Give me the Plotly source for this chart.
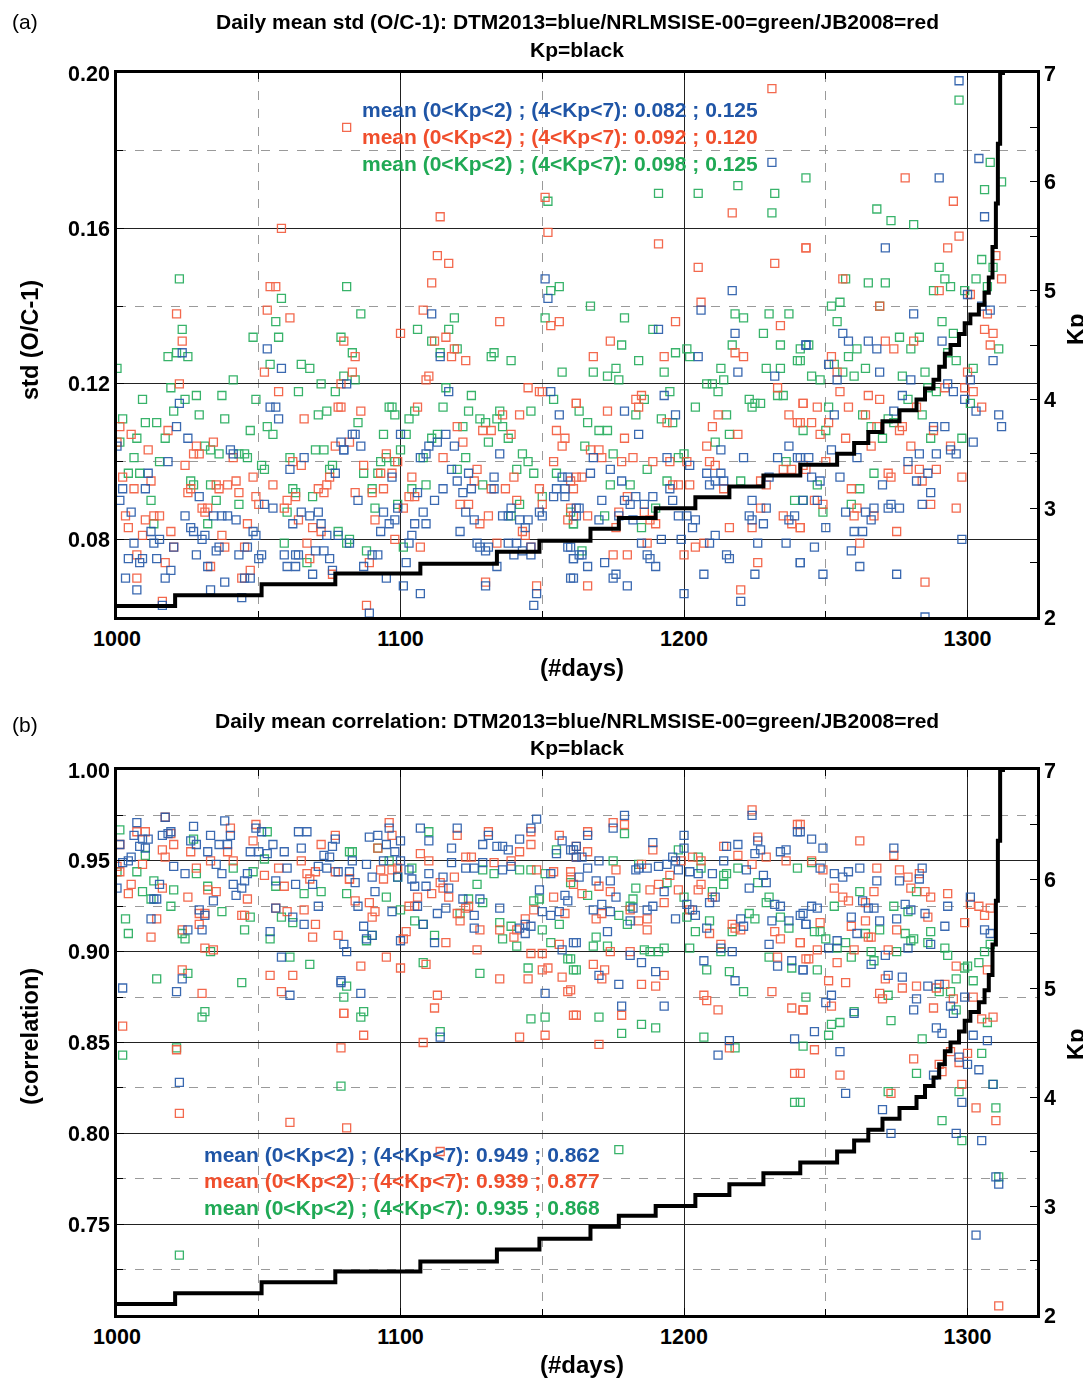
import plotly.graph_objects as go

# ---------------- DATA ----------------
# Kp (sorted daily mean Kp) step values: day where step starts, Kp value
kp_day = [1000, 1020.5, 1051, 1077, 1107, 1134, 1149, 1167, 1177, 1190, 1204, 1216, 1228, 1241,
          1254, 1260, 1265, 1270, 1276, 1282, 1285, 1288, 1290, 1292, 1294, 1297, 1299, 1301,
          1304, 1306, 1307.5, 1308.8, 1310, 1310.7, 1311.5, 1312.5]
kp_value = [2.10, 2.20, 2.30, 2.40, 2.49, 2.60, 2.70, 2.81, 2.91, 3.00, 3.10, 3.20, 3.30, 3.40,
            3.50, 3.60, 3.70, 3.80, 3.90, 4.00, 4.10, 4.18, 4.30, 4.42, 4.50, 4.60, 4.70, 4.78,
            4.87, 4.98, 5.12, 5.40, 5.80, 6.35, 7.00, 7.30]

# Panel (a): daily mean std (O/C-1), (day, value)
std_blue = [
 (1023,0.128),(1053,0.129),(1058,0.124),(1022,0.115),(1054,0.114),(1056,0.114),(1057,0.111),(1021,0.109),(1025,0.106),(1000,0.104),
 (1040,0.103),(1041,0.102),(1079,0.105),(1080,0.103),(1018,0.100),(1066,0.101),(1061,0.098),(1077,0.097),(1011,0.097),(1010,0.093),
 (1002,0.093),(1001,0.090),(1029,0.091),(1052,0.089),(1055,0.088),(1065,0.087),(1068,0.086),(1071,0.087),(1072,0.084),(1074,0.081),
 (1078,0.081),(1062,0.084),(1005,0.087),(1012,0.082),(1015,0.080),(1006,0.079),(1013,0.079),(1024,0.086),(1026,0.083),(1027,0.082),
 (1030,0.080),(1031,0.081),(1034,0.086),(1037,0.086),(1039,0.086),(1042,0.085),(1048,0.082),(1049,0.081),(1020,0.078),(1035,0.077),
 (1036,0.078),(1046,0.078),(1004,0.075),(1008,0.074),(1009,0.075),(1014,0.075),(1019,0.072),(1028,0.076),(1032,0.073),(1043,0.076),
 (1050,0.075),(1051,0.076),(1045,0.070),(1047,0.070),(1003,0.070),(1007,0.067),(1017,0.070),(1038,0.069),(1033,0.067),(1044,0.065),
 (1016,0.063),(1059,0.076),(1060,0.073),(1063,0.076),(1064,0.076),(1063,0.073),(1070,0.077),(1073,0.077),(1075,0.075),(1069,0.071),
 (1076,0.072),
 (1151,0.147),(1152,0.142),(1111,0.138),(1114,0.127),(1081,0.120),(1117,0.118),(1153,0.118),(1156,0.112),(1083,0.107),(1084,0.107),
 (1080,0.103),(1086,0.104),(1100,0.107),(1110,0.104),(1113,0.105),(1116,0.107),(1119,0.104),(1135,0.102),(1097,0.096),(1107,0.101),
 (1109,0.102),(1118,0.098),(1120,0.095),(1124,0.097),(1133,0.096),(1157,0.096),(1159,0.096),(1085,0.090),(1106,0.092),(1112,0.090),
 (1115,0.093),(1122,0.092),(1125,0.093),(1123,0.087),(1126,0.085),(1133,0.093),(1139,0.088),(1136,0.086),(1138,0.086),(1142,0.085),
 (1145,0.085),(1144,0.083),(1149,0.087),(1150,0.086),(1154,0.091),(1158,0.091),(1158,0.093),(1155,0.093),(1162,0.088),(1162,0.086),
 (1094,0.087),(1096,0.084),(1098,0.085),(1093,0.082),(1099,0.088),(1105,0.084),(1108,0.087),(1109,0.084),(1104,0.081),(1103,0.079),
 (1121,0.082),(1127,0.079),(1128,0.078),(1130,0.077),(1131,0.078),(1138,0.079),(1141,0.079),(1140,0.076),(1143,0.077),(1146,0.076),
 (1146,0.078),(1082,0.079),(1090,0.076),(1092,0.076),(1087,0.073),(1102,0.074),(1134,0.073),(1095,0.070),(1101,0.068),(1107,0.066),
 (1130,0.068),(1089,0.061),(1148,0.066),(1147,0.063),(1159,0.078),(1161,0.075),(1160,0.070),
 (1231,0.177),(1217,0.144),(1206,0.139),(1191,0.134),(1218,0.133),(1243,0.130),(1205,0.127),(1219,0.123),(1232,0.122),(1179,0.113),
 (1193,0.117),(1197,0.112),(1184,0.107),(1213,0.103),(1237,0.104),(1168,0.101),(1174,0.098),(1194,0.101),(1202,0.099),(1221,0.101),
 (1233,0.101),(1240,0.101),(1167,0.097),(1178,0.095),(1195,0.093),(1208,0.097),(1209,0.094),(1211,0.095),(1213,0.097),(1214,0.095),
 (1230,0.096),(1163,0.088),(1170,0.085),(1171,0.090),(1177,0.086),(1179,0.090),(1181,0.089),(1183,0.091),(1182,0.085),(1186,0.089),
 (1189,0.091),(1196,0.090),(1198,0.086),(1201,0.086),(1203,0.083),(1204,0.085),(1224,0.090),(1229,0.088),(1228,0.084),(1224,0.085),
 (1223,0.086),(1239,0.086),(1237,0.085),(1160,0.078),(1163,0.076),(1164,0.076),(1166,0.073),(1161,0.075),(1172,0.074),(1185,0.079),
 (1187,0.076),(1188,0.075),(1190,0.073),(1192,0.080),(1199,0.080),(1161,0.070),(1175,0.070),(1176,0.071),(1180,0.068),(1209,0.079),
 (1211,0.081),(1215,0.076),(1216,0.075),(1226,0.079),(1236,0.079),(1241,0.074),(1207,0.071),(1225,0.071),(1200,0.066),(1220,0.064),
 (1297,0.198),(1304,0.178),(1290,0.173),(1306,0.163),(1271,0.155),(1300,0.143),(1281,0.138),(1305,0.140),(1308,0.139),(1256,0.133),
 (1258,0.131),(1265,0.131),(1268,0.129),(1291,0.131),(1243,0.130),(1251,0.125),(1309,0.126),(1269,0.123),(1254,0.121),(1280,0.121),
 (1301,0.121),(1293,0.120),(1295,0.118),(1299,0.116),(1303,0.113),(1277,0.117),(1274,0.113),(1253,0.112),(1288,0.109),(1292,0.109),
 (1311,0.112),(1312,0.109),(1302,0.105),(1252,0.103),(1241,0.101),(1244,0.101),(1261,0.101),(1283,0.102),(1289,0.102),(1294,0.103),
 (1296,0.102),(1279,0.100),(1245,0.096),(1248,0.095),(1255,0.096),(1282,0.095),(1286,0.097),(1270,0.094),(1287,0.092),(1242,0.090),
 (1247,0.090),(1257,0.087),(1264,0.087),(1267,0.088),(1266,0.085),(1272,0.088),(1273,0.089),(1276,0.088),(1284,0.089),(1250,0.083),
 (1260,0.082),(1263,0.082),(1246,0.078),(1259,0.077),(1298,0.080),(1241,0.074),(1249,0.071),(1262,0.073),(1275,0.071),(1285,0.060),
]
std_red = [
 (1081,0.186),(1058,0.160),(1054,0.145),(1056,0.145),(1021,0.138),(1053,0.139),(1061,0.137),(1023,0.131),(1080,0.131),(1052,0.123),
 (1022,0.120),(1079,0.120),(1057,0.118),(1078,0.114),(1066,0.111),(1001,0.109),(1018,0.108),(1005,0.107),(1000,0.105),(1011,0.103),
 (1034,0.105),(1028,0.104),(1027,0.102),(1029,0.102),(1041,0.101),(1077,0.104),(1024,0.099),(1062,0.100),(1065,0.099),(1002,0.096),
 (1012,0.095),(1006,0.093),(1026,0.093),(1035,0.094),(1036,0.093),(1039,0.094),(1042,0.095),(1043,0.092),(1025,0.092),(1048,0.096),
 (1055,0.094),(1063,0.091),(1060,0.090),(1071,0.093),(1073,0.092),(1074,0.094),(1075,0.096),(1049,0.091),(1050,0.089),(1059,0.088),
 (1069,0.083),(1072,0.082),(1064,0.085),(1003,0.086),(1010,0.085),(1013,0.086),(1015,0.086),(1004,0.083),(1009,0.081),(1019,0.082),
 (1030,0.088),(1031,0.087),(1032,0.088),(1037,0.081),(1046,0.084),(1020,0.078),(1038,0.078),(1045,0.078),(1007,0.076),(1017,0.074),
 (1033,0.073),(1047,0.072),(1044,0.070),(1007,0.070),(1016,0.064),(1067,0.079),(1068,0.075),(1076,0.071),
 (1114,0.163),(1151,0.168),(1152,0.159),(1113,0.153),(1117,0.151),(1111,0.146),(1108,0.139),(1135,0.136),(1153,0.135),(1156,0.136),
 (1100,0.133),(1112,0.131),(1116,0.132),(1118,0.127),(1119,0.129),(1123,0.126),(1084,0.127),(1083,0.123),(1110,0.122),(1109,0.121),
 (1145,0.119),(1149,0.118),(1150,0.118),(1162,0.115),(1079,0.114),(1086,0.113),(1106,0.114),(1136,0.112),(1142,0.112),(1120,0.109),
 (1129,0.108),(1132,0.108),(1139,0.107),(1082,0.105),(1122,0.105),(1155,0.108),(1158,0.106),(1157,0.104),(1095,0.102),(1087,0.099),
 (1093,0.097),(1097,0.097),(1099,0.100),(1115,0.101),(1127,0.098),(1126,0.095),(1132,0.093),(1140,0.096),(1154,0.100),(1162,0.096),
 (1084,0.092),(1090,0.092),(1094,0.093),(1104,0.096),(1103,0.091),(1105,0.091),(1121,0.089),(1124,0.089),(1128,0.084),(1131,0.086),
 (1137,0.093),(1141,0.090),(1143,0.082),(1144,0.081),(1149,0.093),(1150,0.089),(1159,0.085),(1091,0.085),(1101,0.088),(1098,0.080),
 (1107,0.078),(1134,0.079),(1146,0.078),(1089,0.074),(1130,0.069),(1088,0.063),(1148,0.068),
 (1231,0.196),(1217,0.164),(1191,0.156),(1205,0.150),(1232,0.151),(1243,0.155),(1206,0.141),(1197,0.136),(1234,0.135),(1174,0.131),
 (1218,0.128),(1221,0.127),(1168,0.127),(1193,0.127),(1233,0.119),(1162,0.115),(1173,0.113),(1183,0.116),(1185,0.117),(1184,0.114),
 (1212,0.112),(1242,0.115),(1237,0.112),(1240,0.110),(1179,0.106),(1194,0.110),(1210,0.109),(1219,0.107),(1208,0.104),(1167,0.103),
 (1170,0.103),(1171,0.101),(1178,0.100),(1182,0.101),(1189,0.100),(1195,0.100),(1201,0.100),(1209,0.100),(1211,0.099),(1235,0.098),
 (1238,0.098),(1242,0.099),(1160,0.095),(1164,0.096),(1161,0.093),(1196,0.094),(1198,0.094),(1202,0.094),(1214,0.093),(1227,0.095),
 (1229,0.094),(1160,0.088),(1161,0.086),(1166,0.086),(1176,0.083),(1177,0.087),(1180,0.091),(1186,0.087),(1188,0.085),(1190,0.084),
 (1216,0.083),(1227,0.088),(1224,0.083),(1235,0.086),(1238,0.084),(1241,0.083),(1175,0.076),(1180,0.076),(1187,0.079),(1200,0.076),
 (1166,0.068),(1204,0.078),(1207,0.079),(1226,0.074),(1220,0.067),
 (1278,0.173),(1295,0.167),(1243,0.155),(1293,0.155),(1297,0.158),(1310,0.153),(1256,0.147),(1290,0.144),(1312,0.147),(1301,0.143),
 (1269,0.140),(1307,0.138),(1271,0.131),(1274,0.129),(1281,0.131),(1306,0.134),(1309,0.133),(1308,0.130),(1252,0.127),(1254,0.123),
 (1300,0.123),(1292,0.119),(1299,0.119),(1302,0.118),(1305,0.114),(1255,0.118),(1265,0.117),(1269,0.116),(1282,0.114),(1242,0.115),
 (1247,0.114),(1258,0.114),(1264,0.112),(1241,0.110),(1245,0.110),(1251,0.110),(1248,0.107),(1268,0.109),(1276,0.108),(1277,0.109),
 (1288,0.108),(1257,0.106),(1266,0.104),(1280,0.104),(1294,0.104),(1250,0.100),(1243,0.098),(1272,0.097),(1273,0.096),(1279,0.098),
 (1283,0.098),(1289,0.098),(1284,0.095),(1298,0.096),(1259,0.093),(1246,0.090),(1249,0.089),(1261,0.088),(1260,0.086),(1267,0.086),
 (1287,0.089),(1296,0.088),(1241,0.083),(1275,0.082),(1262,0.079),(1285,0.069),
]
std_green = [
 (1022,0.147),(1058,0.142),(1081,0.145),(1056,0.136),(1023,0.134),(1048,0.132),(1057,0.132),(1079,0.132),(1021,0.128),(1018,0.127),
 (1025,0.127),(1000,0.124),(1054,0.125),(1065,0.125),(1068,0.124),(1041,0.121),(1019,0.119),(1072,0.120),(1009,0.116),(1028,0.117),
 (1024,0.116),(1037,0.117),(1049,0.116),(1064,0.118),(1077,0.118),(1020,0.113),(1029,0.112),(1038,0.111),(1002,0.111),(1071,0.112),
 (1074,0.113),(1010,0.110),(1014,0.110),(1053,0.109),(1047,0.108),(1055,0.107),(1007,0.106),(1017,0.106),(1001,0.105),(1031,0.104),
 (1033,0.103),(1036,0.102),(1043,0.102),(1045,0.102),(1046,0.101),(1070,0.103),(1073,0.103),(1006,0.101),(1015,0.100),(1061,0.101),
 (1051,0.099),(1052,0.098),(1076,0.099),(1075,0.098),(1004,0.097),(1008,0.097),(1026,0.095),(1027,0.094),(1012,0.090),(1033,0.094),
 (1035,0.090),(1043,0.089),(1062,0.093),(1063,0.092),(1069,0.091),(1060,0.087),(1078,0.082),(1013,0.084),(1032,0.084),(1059,0.079),
 (1067,0.074),(1081,0.079),
 (1152,0.167),(1153,0.144),(1156,0.145),(1086,0.138),(1119,0.137),(1151,0.137),(1106,0.134),(1111,0.131),(1117,0.134),(1114,0.128),
 (1120,0.129),(1132,0.127),(1133,0.128),(1139,0.126),(1083,0.128),(1157,0.123),(1080,0.122),(1084,0.121),(1116,0.119),(1125,0.117),
 (1154,0.116),(1096,0.114),(1097,0.114),(1098,0.112),(1105,0.113),(1103,0.111),(1115,0.114),(1124,0.113),(1128,0.111),(1130,0.110),
 (1135,0.113),(1134,0.111),(1146,0.113),(1085,0.110),(1122,0.109),(1136,0.109),(1138,0.106),(1094,0.107),(1102,0.107),(1100,0.103),
 (1111,0.106),(1113,0.107),(1131,0.105),(1095,0.101),(1098,0.100),(1087,0.097),(1092,0.097),(1093,0.100),(1108,0.101),(1123,0.101),
 (1120,0.098),(1129,0.094),(1143,0.102),(1145,0.100),(1141,0.098),(1147,0.097),(1155,0.097),(1090,0.093),(1104,0.093),(1109,0.094),
 (1142,0.089),(1139,0.086),(1150,0.091),(1160,0.087),(1161,0.084),(1091,0.088),(1099,0.089),(1101,0.078),(1082,0.080),(1088,0.077),
 (1191,0.169),(1205,0.169),(1219,0.171),(1232,0.169),(1243,0.173),(1231,0.164),(1167,0.140),(1179,0.137),(1189,0.134),(1218,0.138),
 (1221,0.137),(1230,0.138),(1237,0.138),(1228,0.133),(1178,0.130),(1217,0.130),(1234,0.130),(1241,0.129),(1184,0.126),(1197,0.128),
 (1201,0.129),(1202,0.127),(1168,0.123),(1176,0.124),(1173,0.122),(1177,0.121),(1193,0.123),(1213,0.124),(1229,0.124),(1234,0.124),
 (1240,0.126),(1208,0.120),(1210,0.120),(1212,0.118),(1214,0.121),(1233,0.117),(1235,0.117),(1163,0.113),(1186,0.116),(1183,0.112),
 (1195,0.118),(1204,0.114),(1215,0.112),(1223,0.116),(1224,0.114),(1227,0.115),(1225,0.115),(1242,0.108),(1166,0.110),(1170,0.108),
 (1173,0.108),(1192,0.111),(1196,0.110),(1216,0.107),(1211,0.105),(1165,0.104),(1175,0.102),(1198,0.101),(1200,0.102),(1236,0.100),
 (1174,0.094),(1187,0.098),(1181,0.094),(1194,0.095),(1220,0.095),(1161,0.084),(1172,0.086),(1185,0.083),(1190,0.088),(1239,0.090),
 (1242,0.090),(1164,0.077),
 (1297,0.193),(1308,0.177),(1312,0.172),(1306,0.170),(1268,0.165),(1273,0.162),(1281,0.161),(1305,0.152),(1309,0.150),(1290,0.150),
 (1257,0.147),(1265,0.146),(1271,0.146),(1292,0.147),(1294,0.145),(1288,0.144),(1303,0.147),(1307,0.145),(1299,0.144),(1252,0.140),
 (1255,0.141),(1269,0.140),(1254,0.136),(1291,0.136),(1276,0.132),(1280,0.129),(1283,0.132),(1295,0.133),(1311,0.129),(1244,0.130),
 (1241,0.126),(1258,0.127),(1261,0.129),(1253,0.125),(1264,0.124),(1293,0.128),(1296,0.126),(1256,0.123),(1285,0.123),(1302,0.124),
 (1245,0.122),(1248,0.121),(1260,0.122),(1277,0.122),(1286,0.119),(1289,0.118),(1301,0.115),(1279,0.116),(1284,0.112),(1251,0.114),
 (1263,0.112),(1250,0.108),(1266,0.109),(1270,0.106),(1272,0.111),(1274,0.110),(1287,0.106),(1298,0.106),(1247,0.094),(1267,0.097),
 (1262,0.093),(1249,0.087),(1259,0.089),
]

# Panel (b): daily mean correlation, (day, value)
cor_blue = [
 (1007,0.971),(1017,0.974),(1038,0.972),(1049,0.968),(1051,0.966),(1040,0.964),(1027,0.969),(1033,0.964),(1006,0.964),(1009,0.962),
 (1011,0.962),(1019,0.966),(1018,0.965),(1016,0.964),(1026,0.961),(1028,0.959),(1036,0.959),(1039,0.959),(1055,0.959),(1001,0.959),
 (1008,0.958),(1010,0.957),(1032,0.955),(1047,0.955),(1050,0.955),(1053,0.954),(1059,0.955),(1064,0.966),(1067,0.966),(1065,0.957),
 (1073,0.953),(1075,0.952),(1077,0.962),(1076,0.958),(1005,0.952),(1004,0.950),(1002,0.949),(1020,0.947),(1024,0.943),(1035,0.948),
 (1037,0.943),(1046,0.943),(1045,0.939),(1060,0.946),(1056,0.939),(1063,0.937),(1069,0.937),(1071,0.947),(1074,0.946),(1078,0.944),
 (1000,0.935),(1015,0.937),(1013,0.929),(1014,0.929),(1034,0.928),(1041,0.937),(1042,0.931),(1044,0.935),(1031,0.920),(1029,0.923),
 (1012,0.918),(1025,0.912),(1030,0.912),(1056,0.924),(1062,0.919),(1066,0.915),(1071,0.925),(1054,0.911),(1080,0.904),(1081,0.900),
 (1058,0.897),(1023,0.885),(1002,0.880),(1021,0.878),(1061,0.876),(1079,0.883),(1022,0.828),
 (1096,0.968),(1089,0.963),(1092,0.964),(1100,0.961),(1107,0.968),(1110,0.961),(1120,0.968),(1131,0.964),(1129,0.959),(1134,0.958),
 (1136,0.958),(1138,0.956),(1142,0.962),(1146,0.968),(1148,0.973),(1118,0.957),(1095,0.959),(1098,0.955),(1094,0.950),(1083,0.950),
 (1088,0.948),(1100,0.950),(1103,0.945),(1110,0.943),(1115,0.941),(1118,0.949),(1126,0.946),(1123,0.946),(1129,0.949),(1136,0.945),
 (1139,0.947),(1153,0.943),(1157,0.961),(1155,0.954),(1161,0.956),(1162,0.952),(1082,0.944),(1084,0.938),(1090,0.941),(1099,0.941),
 (1104,0.940),(1105,0.936),(1109,0.936),(1117,0.935),(1122,0.929),(1128,0.929),(1126,0.920),(1091,0.933),(1085,0.925),(1097,0.922),
 (1106,0.925),(1108,0.915),(1113,0.921),(1116,0.924),(1087,0.914),(1088,0.907),(1090,0.909),(1112,0.905),(1100,0.906),(1126,0.913),
 (1135,0.924),(1142,0.913),(1144,0.910),(1144,0.915),(1146,0.914),(1149,0.934),(1150,0.922),(1153,0.920),(1156,0.922),(1158,0.931),
 (1159,0.928),(1161,0.905),(1157,0.901),(1079,0.884),(1086,0.877),(1151,0.877),(1114,0.853),
 (1179,0.975),(1224,0.975),(1175,0.968),(1240,0.966),(1166,0.964),(1189,0.960),(1200,0.964),(1200,0.957),(1160,0.956),(1162,0.958),
 (1164,0.952),(1170,0.950),(1166,0.946),(1163,0.941),(1169,0.939),(1174,0.939),(1176,0.930),(1183,0.945),(1184,0.946),(1187,0.946),
 (1191,0.947),(1194,0.948),(1197,0.950),(1196,0.952),(1198,0.945),(1193,0.933),(1182,0.924),(1181,0.917),(1187,0.923),(1189,0.925),
 (1197,0.918),(1171,0.926),(1174,0.922),(1168,0.923),(1173,0.911),(1162,0.905),(1170,0.887),(1181,0.898),(1185,0.894),(1190,0.889),
 (1177,0.882),(1178,0.870),(1193,0.870),(1202,0.944),(1205,0.943),(1210,0.943),(1201,0.926),(1203,0.923),(1204,0.920),(1208,0.913),
 (1209,0.927),(1211,0.930),(1215,0.958),(1219,0.959),(1214,0.950),(1222,0.945),(1223,0.935),(1226,0.961),(1227,0.956),(1225,0.954),
 (1234,0.955),(1236,0.956),(1228,0.942),(1229,0.938),(1232,0.926),(1234,0.925),(1231,0.917),(1237,0.917),(1241,0.920),(1243,0.915),
 (1220,0.918),(1221,0.914),(1213,0.902),(1217,0.900),(1207,0.895),(1218,0.884),(1230,0.904),(1233,0.892),(1238,0.895),(1242,0.890),
 (1216,0.851),(1212,0.843),(1239,0.852),
 (1241,0.966),(1245,0.962),(1249,0.957),(1274,0.957),(1248,0.946),(1253,0.943),(1256,0.941),(1258,0.944),(1262,0.946),(1268,0.939),
 (1276,0.939),(1284,0.946),(1283,0.940),(1293,0.925),(1301,0.930),(1245,0.925),(1247,0.924),(1263,0.928),(1265,0.924),(1267,0.924),
 (1278,0.926),(1280,0.923),(1242,0.921),(1243,0.915),(1259,0.919),(1269,0.917),(1275,0.918),(1285,0.921),(1292,0.914),(1261,0.910),
 (1254,0.906),(1251,0.902),(1287,0.904),(1279,0.902),(1271,0.898),(1308,0.910),(1306,0.912),(1266,0.893),(1242,0.890),(1272,0.887),
 (1277,0.886),(1286,0.881),(1290,0.882),(1252,0.876),(1250,0.872),(1282,0.874),(1281,0.868),(1294,0.870),(1295,0.866),(1299,0.875),
 (1260,0.866),(1246,0.856),(1289,0.858),(1291,0.855),(1302,0.854),(1307,0.851),(1255,0.845),(1297,0.842),(1300,0.838),(1304,0.835),
 (1288,0.832),(1309,0.827),(1257,0.822),(1298,0.817),(1270,0.813),(1273,0.800),(1296,0.800),(1305,0.796),(1310,0.776),(1311,0.772),
 (1303,0.744),
]
cor_red = [
 (1017,0.974),(1049,0.970),(1040,0.968),(1007,0.966),(1010,0.966),(1019,0.965),(1048,0.961),(1001,0.959),(1016,0.956),(1020,0.959),
 (1026,0.955),(1039,0.955),(1065,0.950),(1072,0.959),(1077,0.964),(1000,0.947),(1001,0.944),(1009,0.948),(1017,0.952),(1028,0.946),
 (1033,0.950),(1041,0.950),(1052,0.942),(1057,0.946),(1059,0.936),(1067,0.943),(1068,0.940),(1070,0.944),(1077,0.944),(1082,0.940),
 (1004,0.932),(1005,0.937),(1016,0.935),(1025,0.930),(1032,0.934),(1035,0.933),(1046,0.929),(1029,0.921),(1031,0.921),(1044,0.920),
 (1045,0.920),(1014,0.918),(1012,0.908),(1023,0.912),(1029,0.915),(1056,0.924),(1060,0.922),(1066,0.923),(1070,0.915),(1069,0.908),
 (1078,0.909),(1031,0.902),(1034,0.901),(1023,0.890),(1054,0.887),(1062,0.887),(1030,0.877),(1058,0.878),(1002,0.859),(1080,0.866),
 (1021,0.846),(1079,0.847),(1022,0.811),(1061,0.806),(1081,0.803),
 (1096,0.971),(1097,0.964),(1120,0.964),(1131,0.966),(1146,0.966),(1146,0.959),(1142,0.955),(1092,0.957),(1107,0.954),(1110,0.950),
 (1093,0.945),(1097,0.945),(1099,0.946),(1123,0.952),(1125,0.952),(1133,0.949),(1139,0.950),(1148,0.945),(1154,0.944),(1156,0.964),
 (1162,0.958),(1082,0.940),(1094,0.940),(1106,0.930),(1111,0.932),(1114,0.938),(1119,0.941),(1115,0.935),(1117,0.930),(1124,0.925),
 (1120,0.921),(1123,0.924),(1121,0.917),(1084,0.928),(1089,0.927),(1091,0.922),(1090,0.919),(1103,0.925),(1105,0.925),(1102,0.911),
 (1101,0.907),(1116,0.905),(1128,0.912),(1135,0.912),(1140,0.908),(1141,0.912),(1144,0.918),(1147,0.923),(1154,0.930),(1158,0.921),
 (1156,0.904),(1160,0.941),(1161,0.937),(1127,0.901),(1095,0.897),(1086,0.892),(1100,0.891),(1109,0.893),(1135,0.885),(1146,0.899),
 (1150,0.899),(1145,0.885),(1150,0.890),(1152,0.891),(1157,0.886),(1113,0.876),(1112,0.869),(1159,0.878),(1161,0.865),(1080,0.866),
 (1087,0.854),(1108,0.850),(1142,0.853),(1151,0.854),(1114,0.790),
 (1224,0.978),(1175,0.971),(1179,0.970),(1240,0.970),(1166,0.966),(1189,0.956),(1166,0.955),(1162,0.952),(1176,0.945),(1160,0.944),
 (1170,0.936),(1174,0.933),(1164,0.932),(1185,0.948),(1195,0.942),(1199,0.950),(1203,0.952),(1206,0.950),(1188,0.934),(1191,0.937),
 (1198,0.934),(1181,0.923),(1184,0.917),(1187,0.912),(1193,0.927),(1187,0.918),(1169,0.918),(1171,0.921),(1174,0.900),(1168,0.893),
 (1172,0.890),(1171,0.885),(1181,0.900),(1193,0.887),(1185,0.882),(1190,0.881),(1160,0.879),(1162,0.865),(1178,0.865),(1170,0.849),
 (1205,0.934),(1206,0.937),(1202,0.923),(1209,0.910),(1210,0.930),(1214,0.958),(1219,0.953),(1224,0.948),(1226,0.963),(1229,0.952),
 (1236,0.950),(1232,0.911),(1234,0.907),(1217,0.915),(1220,0.912),(1218,0.913),(1213,0.904),(1207,0.876),(1208,0.873),(1212,0.868),
 (1231,0.878),(1233,0.897),(1243,0.896),(1238,0.869),(1242,0.868),(1241,0.905),(1216,0.847),(1239,0.833),
 (1241,0.970),(1262,0.961),(1274,0.953),(1245,0.950),(1249,0.945),(1253,0.935),(1268,0.946),(1276,0.945),(1279,0.941),(1280,0.935),
 (1283,0.943),(1285,0.933),(1287,0.930),(1267,0.933),(1293,0.932),(1301,0.926),(1304,0.925),(1308,0.924),(1306,0.920),(1256,0.930),
 (1258,0.928),(1264,0.927),(1264,0.917),(1248,0.916),(1259,0.914),(1286,0.919),(1299,0.916),(1265,0.908),(1266,0.908),(1241,0.905),
 (1275,0.912),(1247,0.901),(1260,0.901),(1272,0.901),(1244,0.896),(1254,0.894),(1296,0.892),(1307,0.890),(1271,0.885),(1277,0.880),
 (1282,0.881),(1289,0.880),(1292,0.882),(1251,0.884),(1257,0.883),(1252,0.870),(1269,0.877),(1270,0.874),(1295,0.874),(1302,0.875),
 (1288,0.869),(1242,0.868),(1305,0.863),(1309,0.864),(1246,0.846),(1241,0.833),(1255,0.832),(1281,0.841),(1290,0.838),(1291,0.834),
 (1294,0.845),(1300,0.844),(1297,0.839),(1298,0.827),(1273,0.822),(1303,0.814),(1310,0.807),(1311,0.705),
]
cor_green = [
 (1001,0.967),(1053,0.966),(1027,0.962),(1052,0.951),(1082,0.955),(1007,0.944),(1010,0.953),(1028,0.943),(1041,0.946),(1048,0.944),
 (1056,0.936),(1066,0.932),(1072,0.933),(1000,0.944),(1013,0.939),(1009,0.933),(1012,0.929),(1020,0.934),(1032,0.936),(1019,0.925),
 (1037,0.922),(1047,0.919),(1003,0.918),(1004,0.910),(1023,0.910),(1024,0.907),(1045,0.912),(1058,0.919),(1062,0.916),(1054,0.907),
 (1033,0.900),(1061,0.897),(1068,0.893),(1025,0.888),(1014,0.885),(1044,0.883),(1081,0.881),(1080,0.875),(1030,0.864),(1031,0.867),
 (1002,0.843),(1021,0.847),(1079,0.826),(1022,0.733),
 (1110,0.966),(1083,0.955),(1092,0.957),(1096,0.950),(1104,0.946),(1099,0.941),(1129,0.945),(1133,0.943),(1142,0.945),(1146,0.945),
 (1151,0.943),(1155,0.956),(1127,0.937),(1124,0.929),(1129,0.927),(1121,0.921),(1081,0.932),(1095,0.930),(1100,0.923),(1105,0.917),
 (1108,0.915),(1088,0.906),(1090,0.909),(1112,0.909),(1135,0.916),(1136,0.907),(1141,0.903),(1139,0.914),(1147,0.928),(1149,0.929),
 (1150,0.912),(1153,0.905),(1156,0.915),(1159,0.896),(1161,0.890),(1108,0.894),(1128,0.888),(1145,0.891),(1087,0.867),(1086,0.864),
 (1114,0.856),(1146,0.863),(1151,0.864),
 (1179,0.965),(1175,0.950),(1166,0.931),(1160,0.938),(1194,0.938),(1183,0.935),(1184,0.948),(1182,0.929),(1181,0.925),(1177,0.920),
 (1180,0.915),(1169,0.908),(1168,0.903),(1173,0.903),(1162,0.890),(1160,0.896),(1186,0.901),(1188,0.900),(1191,0.900),(1193,0.902),
 (1170,0.864),(1178,0.855),(1185,0.860),(1190,0.858),(1177,0.791),(1198,0.956),(1205,0.952),(1206,0.946),(1200,0.930),(1201,0.919),
 (1204,0.911),(1202,0.902),(1209,0.917),(1210,0.933),(1214,0.937),(1219,0.946),(1214,0.942),(1215,0.943),(1226,0.938),(1230,0.930),
 (1229,0.927),(1234,0.919),(1237,0.913),(1217,0.911),(1223,0.921),(1225,0.918),(1213,0.900),(1208,0.890),(1216,0.889),(1221,0.878),
 (1230,0.897),(1238,0.891),(1243,0.875),(1240,0.946),(1207,0.853),(1218,0.847),(1242,0.848),(1239,0.817),
 (1245,0.949),(1262,0.933),(1282,0.933),(1253,0.925),(1274,0.925),(1279,0.922),(1246,0.911),(1248,0.911),(1264,0.910),(1269,0.912),
 (1287,0.911),(1250,0.907),(1257,0.905),(1281,0.907),(1286,0.905),(1278,0.910),(1280,0.906),(1254,0.902),(1266,0.900),(1275,0.900),
 (1292,0.902),(1293,0.898),(1306,0.900),(1308,0.904),(1259,0.897),(1267,0.895),(1247,0.890),(1299,0.891),(1300,0.892),(1304,0.894),
 (1296,0.885),(1302,0.884),(1290,0.878),(1294,0.878),(1272,0.876),(1296,0.868),(1260,0.867),(1255,0.861),(1252,0.860),(1251,0.854),
 (1273,0.862),(1307,0.861),(1284,0.852),(1241,0.817),(1282,0.833),(1305,0.844),(1309,0.827),(1297,0.823),(1272,0.823),(1310,0.814),
 (1291,0.807),(1298,0.796),(1311,0.776),
]

x_ticks = [1000, 1100, 1200, 1300]
std_ticks = [0.08, 0.12, 0.16, 0.20]
cor_ticks = [0.75, 0.80, 0.85, 0.90, 0.95, 1.00]
kp_ticks = [2, 3, 4, 5, 6, 7]

std_means = {"blue": ("0.082", "0.125"), "red": ("0.092", "0.120"), "green": ("0.098", "0.125")}
cor_means = {"blue": ("0.949", "0.862"), "red": ("0.939", "0.877"), "green": ("0.935", "0.868")}

# ---------------- STYLE ----------------
# the page body has an 8px margin, so the figure is made 8px smaller on each axis
# and every layout position is expressed in reference-image pixels shifted by 8px.
OFF = 8
W, H = 1091 - OFF, 1378 - OFF
FONT = "Liberation Sans, Arial, Helvetica, sans-serif"
COL = {"blue": "#2458a8", "red": "#f2583a", "green": "#22ab5a"}
TXT = {"blue": "#1f55a6", "red": "#f04e2c", "green": "#20a955"}

def px_x(p):
    return (p - OFF) / W

def px_y(p):
    return 1 - (p - OFF) / H

dom_x = [px_x(117), px_x(1037)]
dom_a = [px_y(617), px_y(73)]
dom_b = [px_y(1315), px_y(770)]

fig = go.Figure()

def add_points(pts, color, xa, ya, name):
    fig.add_trace(go.Scatter(
        x=[p[0] for p in pts], y=[p[1] for p in pts], mode="markers", name=name,
        xaxis=xa, yaxis=ya, showlegend=False,
        marker=dict(symbol="square-open", size=8, color=color, line=dict(width=1.3, color=color)),
        opacity=0.9))

for key, pts in (("green", std_green), ("red", std_red), ("blue", std_blue)):
    add_points(pts, COL[key], "x", "y", key)
for key, pts in (("green", cor_green), ("red", cor_red), ("blue", cor_blue)):
    add_points(pts, COL[key], "x2", "y2", key)

for xa, ya in (("x", "y3"), ("x2", "y4")):
    fig.add_trace(go.Scatter(x=kp_day, y=kp_value, mode="lines", line=dict(color="black", width=4, shape="hv"),
                             xaxis=xa, yaxis=ya, showlegend=False))

tickfont = dict(family=FONT, size=21.5, color="black", weight="bold")
minor_grid = dict(showgrid=True, griddash="dash", gridcolor="#9a9a9a", gridwidth=1, ticks="inside", ticklen=6, tickcolor="black")

def xaxis(anchor):
    return dict(domain=dom_x, anchor=anchor, range=[1000, 1324.5], tickmode="array", tickvals=x_ticks,
                ticktext=[str(v) for v in x_ticks], tickfont=tickfont, showline=True, linewidth=2.5, linecolor="black",
                mirror="ticks", ticks="inside", ticklen=7, tickwidth=1.2, tickcolor="black", automargin=False,
                showgrid=True, gridcolor="#222222", gridwidth=1, zeroline=False,
                minor=dict(tickvals=[1050, 1150, 1250], **minor_grid))

def yleft(dom, anchor, rng, ticks, minor_vals):
    return dict(domain=dom, anchor=anchor, range=rng, tickmode="array", tickvals=ticks,
                ticktext=[f"{v:.2f}" for v in ticks], tickfont=tickfont, showline=True, linewidth=2.5,
                linecolor="black", mirror=True, ticks="inside", ticklen=7, tickcolor="black", showgrid=True,
                gridcolor="#222222", gridwidth=1, zeroline=False, automargin=False,
                minor=dict(tickvals=minor_vals, **minor_grid))

def yright(over, anchor):
    return dict(overlaying=over, side="right", anchor=anchor, range=[2, 7], tickmode="array", tickvals=kp_ticks,
                ticktext=[str(v) for v in kp_ticks], tickfont=tickfont, showline=True, linewidth=2.5,
                linecolor="black", ticks="inside", ticklen=7, tickcolor="black", showgrid=False, zeroline=False,
                automargin=False,
                minor=dict(tickvals=[2.5, 3.5, 4.5, 5.5, 6.5], ticks="inside", ticklen=7, tickcolor="black"))

fig.update_layout(
    width=W, height=H, margin=dict(l=0, r=0, t=0, b=0, pad=0, autoexpand=False),
    paper_bgcolor="white", plot_bgcolor="white",
    xaxis=xaxis("y"), xaxis2=xaxis("y2"),
    yaxis=yleft(dom_a, "x", [0.06, 0.20], std_ticks, [0.10, 0.14, 0.18]),
    yaxis2=yleft(dom_b, "x2", [0.70, 1.00], cor_ticks, [0.725, 0.775, 0.825, 0.875, 0.925, 0.975]),
    yaxis3=yright("y", "x"),
    yaxis4=yright("y2", "x2"),
)

ann = []
def text(x, y, s, size, color="black", bold=True, angle=0, xanchor="center"):
    ann.append(dict(x=px_x(x), y=px_y(y), xref="paper", yref="paper", text=(f"<b>{s}</b>" if bold else s),
                    showarrow=False, font=dict(family=FONT, size=size, color=color), textangle=angle,
                    xanchor=xanchor, yanchor="middle"))

# titles
text(577, 22, "Daily mean std (O/C-1): DTM2013=blue/NRLMSISE-00=green/JB2008=red", 21)
text(577, 49, "Kp=black", 21)
text(577, 720, "Daily mean correlation: DTM2013=blue/NRLMSISE-00=green/JB2008=red", 21)
text(577, 747, "Kp=black", 21)
text(10, 21, "(a)", 21, bold=False, xanchor="left")
text(10, 724, "(b)", 21, bold=False, xanchor="left")
# axis titles
text(30, 340, "std (O/C-1)", 23.5, angle=-90)
text(30, 1037, "(correlation)", 23.5, angle=-90)
text(582, 667, "(#days)", 24)
text(582, 1364, "(#days)", 24)
text(1076, 330, "Kp", 23.5, angle=-90)
text(1076, 1045, "Kp", 23.5, angle=-90)
# mean statistics
for i, key in enumerate(("blue", "red", "green")):
    a, b = std_means[key]
    text(360, 110 + 26.5 * i, f"mean (0&lt;Kp&lt;2) ; (4&lt;Kp&lt;7): {a} ; {b}", 21, color=TXT[key], xanchor="left")
    a, b = cor_means[key]
    text(202, 1154 + 26.5 * i, f"mean (0&lt;Kp&lt;2) ; (4&lt;Kp&lt;7): {a} ; {b}", 21, color=TXT[key], xanchor="left")

fig.update_layout(annotations=ann)
fig.write_html("out.html")
